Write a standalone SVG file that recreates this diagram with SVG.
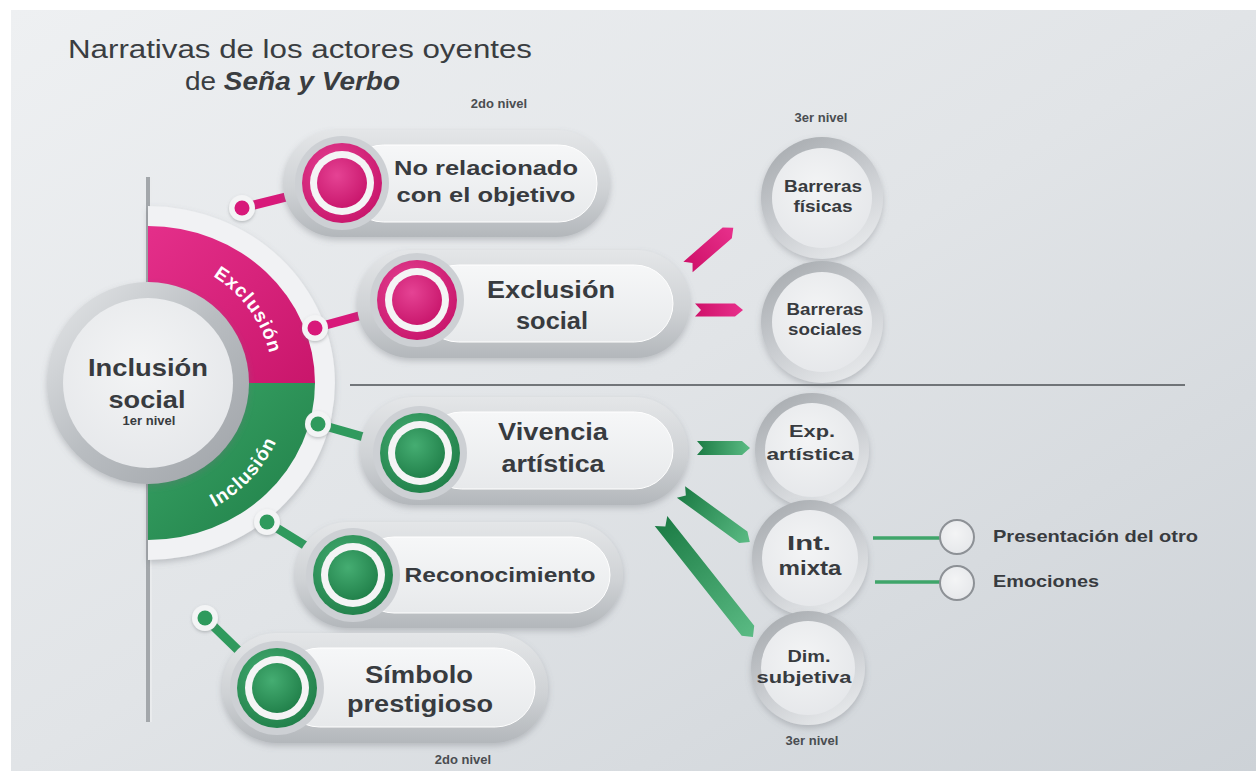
<svg xmlns="http://www.w3.org/2000/svg" width="1256" height="775" viewBox="0 0 1256 775">
<defs>
<linearGradient id="bg" x1="0" y1="0" x2="1" y2="1">
<stop offset="0" stop-color="#eef0f2"/><stop offset="0.5" stop-color="#e1e4e7"/><stop offset="1" stop-color="#cdd2d7"/>
</linearGradient>
<linearGradient id="shellG" x1="0" y1="0" x2="0" y2="1">
<stop offset="0" stop-color="#e4e6e8"/><stop offset="0.55" stop-color="#cfd2d5"/><stop offset="1" stop-color="#b3b7bb"/>
</linearGradient>
<linearGradient id="innerG" x1="0" y1="0" x2="0" y2="1">
<stop offset="0" stop-color="#f6f7f8"/><stop offset="1" stop-color="#e7e9eb"/>
</linearGradient>
<linearGradient id="ringG" x1="0" y1="0" x2="1" y2="1">
<stop offset="0" stop-color="#e6e8ea"/><stop offset="0.5" stop-color="#b9bdc1"/><stop offset="1" stop-color="#9ea2a7"/>
</linearGradient>
<linearGradient id="ringG2" x1="0.2" y1="0" x2="0.8" y2="1">
<stop offset="0" stop-color="#a8acb0"/><stop offset="0.5" stop-color="#c9ccd0"/><stop offset="1" stop-color="#e9ebed"/>
</linearGradient>
<radialGradient id="discG" cx="0.45" cy="0.4" r="0.7">
<stop offset="0" stop-color="#f3f4f5"/><stop offset="1" stop-color="#e4e6e9"/>
</radialGradient>
<linearGradient id="pinkW" x1="0" y1="0" x2="1" y2="1">
<stop offset="0" stop-color="#e42f8a"/><stop offset="1" stop-color="#c9166b"/>
</linearGradient>
<linearGradient id="greenW" x1="0" y1="0" x2="1" y2="1">
<stop offset="0" stop-color="#3aa567"/><stop offset="1" stop-color="#1f7e47"/>
</linearGradient>
<radialGradient id="pinkD" cx="0.4" cy="0.35" r="0.7">
<stop offset="0" stop-color="#e54394"/><stop offset="1" stop-color="#c8156b"/>
</radialGradient>
<radialGradient id="greenD" cx="0.4" cy="0.35" r="0.7">
<stop offset="0" stop-color="#45ad72"/><stop offset="1" stop-color="#207f49"/>
</radialGradient>
<linearGradient id="pinkR" x1="0" y1="0" x2="1" y2="0">
<stop offset="0" stop-color="#cf1169"/><stop offset="1" stop-color="#e8308c"/>
</linearGradient>
<linearGradient id="greenR" x1="0" y1="0" x2="1" y2="0">
<stop offset="0" stop-color="#1c7c45"/><stop offset="1" stop-color="#5bbb84"/>
</linearGradient>
<filter id="sh" x="-20%" y="-20%" width="140%" height="150%">
<feDropShadow dx="0" dy="3" stdDeviation="3" flood-color="#6d7378" flood-opacity="0.35"/>
</filter>
<filter id="shs" x="-40%" y="-40%" width="180%" height="180%">
<feDropShadow dx="0" dy="1.5" stdDeviation="1.5" flood-color="#6d7378" flood-opacity="0.4"/>
</filter>
<path id="arcEx" d="M169.7,259.9 A125,125 0 0 1 271.8,400.4"/>
<path id="arcIn" d="M152.9,523.9 A141,141 0 0 0 288.9,378.1"/>
</defs>
<style>
text{font-family:"Liberation Sans",Arial,sans-serif;}
.t{font-weight:bold;fill:#383b3f;text-anchor:middle;}
.lv{font-weight:bold;fill:#4a4d51;font-size:13px;text-anchor:middle;}
.shell{fill:url(#shellG);filter:url(#sh);}
.inner{fill:url(#innerG);stroke:#ffffff;stroke-width:1;}
.halo{fill:#cdd0d4;}
.pk{fill:url(#pinkD);}
.gr{fill:url(#greenD);}
.wr{fill:#f4f4f5;}
.ring{fill:url(#ringG2);filter:url(#sh);}
.disc{fill:url(#discG);}
.dotw{fill:#f3f4f5;filter:url(#shs);}
.pkl{stroke:#d8197a;stroke-width:9;stroke-linecap:round;fill:none;}
.grl{stroke:#2f9a5d;stroke-width:9;stroke-linecap:round;fill:none;}
.gline{stroke:#3fa56a;stroke-width:3.5;}
.arc{font-weight:bold;fill:#ffffff;font-size:19px;letter-spacing:1px;}
</style>
<rect x="0" y="0" width="1256" height="775" fill="#ffffff"/>
<rect x="11" y="10" width="1245" height="761" fill="url(#bg)"/>

<!-- titles -->
<g id="title">
<text x="68" y="58" font-size="25" fill="#3a3d41" textLength="464" lengthAdjust="spacingAndGlyphs">Narrativas de los actores oyentes</text>
<text x="185" y="90" font-size="25" fill="#3a3d41" textLength="215" lengthAdjust="spacingAndGlyphs">de <tspan font-weight="bold" font-style="italic">Seña y Verbo</tspan></text>
</g>
<text class="lv" x="499" y="108">2do nivel</text>
<text class="lv" x="463" y="764">2do nivel</text>
<text class="lv" x="821" y="122">3er nivel</text>
<text class="lv" x="812" y="745">3er nivel</text>

<!-- divider -->
<line x1="350" y1="385" x2="1185" y2="385" stroke="#4d5054" stroke-width="1.5"/>

<!-- vertical axis -->
<rect x="146" y="177" width="4" height="545" fill="#a3a7ab"/>
<rect x="150" y="177" width="2" height="545" fill="#e9ebed"/>

<!-- level 1 hub -->
<g id="n-inclusion-social">
<path d="M148,206 A187,177 0 0 1 148,560 Z" fill="#f1f2f4" filter="url(#sh)"/>
<path d="M148,383 L148,226 A167,157 0 0 1 315,383 Z" fill="url(#pinkW)"/>
<path d="M148,383 L315,383 A167,157 0 0 1 148,540 Z" fill="url(#greenW)"/>
<text class="arc"><textPath href="#arcEx" startOffset="50%" text-anchor="middle">Exclusión</textPath></text>
<text class="arc"><textPath href="#arcIn" startOffset="50%" text-anchor="middle">Inclusión</textPath></text>
<circle cx="148" cy="383" r="101" fill="url(#ringG)" filter="url(#sh)"/>
<circle cx="148" cy="383" r="85" class="disc"/>
<text class="t" x="148" y="376" font-size="24" textLength="120" lengthAdjust="spacingAndGlyphs">Inclusión</text>
<text class="t" x="147" y="408" font-size="24" textLength="77" lengthAdjust="spacingAndGlyphs">social</text>
<text class="t" x="149" y="425" font-size="13">1er nivel</text>
</g>

<!-- connectors -->
<g id="connectors">
<line class="pkl" x1="242" y1="208" x2="342" y2="183"/>
<line class="pkl" x1="315" y1="328" x2="417" y2="300"/>
<line class="grl" x1="318" y1="424" x2="420" y2="453"/>
<line class="grl" x1="267" y1="522" x2="353" y2="575"/>
<line class="grl" x1="205" y1="618" x2="277" y2="688"/>
<g>
<circle cx="242" cy="208" r="13" class="dotw"/><circle cx="242" cy="208" r="7.5" fill="#d8197a"/>
<circle cx="315" cy="328" r="13" class="dotw"/><circle cx="315" cy="328" r="7.5" fill="#d8197a"/>
<circle cx="318" cy="424" r="13" class="dotw"/><circle cx="318" cy="424" r="7.5" fill="#2f9a5d"/>
<circle cx="267" cy="522" r="13" class="dotw"/><circle cx="267" cy="522" r="7.5" fill="#2f9a5d"/>
<circle cx="205" cy="618" r="13" class="dotw"/><circle cx="205" cy="618" r="7.5" fill="#2f9a5d"/>
</g>
<path transform="translate(688,267) rotate(-41)" d="M0,-7 H52 L60,0 L52,7 H0 L6,0 Z" fill="url(#pinkR)"/>
<path transform="translate(695,310)" d="M0,-6.5 H40 L48,0 L40,6.5 H0 L6,0 Z" fill="url(#pinkR)"/>
<path transform="translate(697,448)" d="M0,-7 H45 L53,0 L45,7 H0 L6,0 Z" fill="url(#greenR)"/>
<path transform="translate(681,492) rotate(36)" d="M0,-7 H77 L85,0 L77,7 H0 L6,0 Z" fill="url(#greenR)"/>
<path transform="translate(661,521) rotate(51.6)" d="M0,-8 H140 L148,0 L140,8 H0 L7,0 Z" fill="url(#greenR)"/>
<line class="gline" x1="873" y1="538" x2="940" y2="538"/>
<line class="gline" x1="875" y1="582" x2="940" y2="582"/>
</g>

<!-- level 2 nodes -->
<g id="n-no-relacionado">
<rect class="shell" x="283" y="130" width="327" height="107" rx="53.5"/>
<rect class="inner" x="345" y="145" width="252" height="77" rx="38.5"/>
<circle cx="342" cy="183" r="47" class="halo"/>
<circle cx="342" cy="183" r="40" class="pk"/>
<circle cx="342" cy="183" r="32" class="wr"/>
<circle cx="342" cy="183" r="25" class="pk"/>
<text class="t" x="486" y="175" font-size="21" textLength="184" lengthAdjust="spacingAndGlyphs">No relacionado</text>
<text class="t" x="486" y="202" font-size="21" textLength="179" lengthAdjust="spacingAndGlyphs">con el objetivo</text>
</g>
<g id="n-exclusion-social">
<rect class="shell" x="357" y="250" width="333" height="108" rx="54"/>
<rect class="inner" x="420" y="265" width="253" height="77" rx="38.5"/>
<circle cx="417" cy="300" r="47" class="halo"/>
<circle cx="417" cy="300" r="40" class="pk"/>
<circle cx="417" cy="300" r="32" class="wr"/>
<circle cx="417" cy="300" r="25" class="pk"/>
<text class="t" x="551" y="298" font-size="23" textLength="128" lengthAdjust="spacingAndGlyphs">Exclusión</text>
<text class="t" x="552" y="329" font-size="23" textLength="72" lengthAdjust="spacingAndGlyphs">social</text>
</g>
<g id="n-vivencia">
<rect class="shell" x="360" y="397" width="328" height="108" rx="54"/>
<rect class="inner" x="423" y="412" width="250" height="77" rx="38.5"/>
<circle cx="420" cy="453" r="47" class="halo"/>
<circle cx="420" cy="453" r="40" class="gr"/>
<circle cx="420" cy="453" r="32" class="wr"/>
<circle cx="420" cy="453" r="25" class="gr"/>
<text class="t" x="553" y="440" font-size="23" textLength="110" lengthAdjust="spacingAndGlyphs">Vivencia</text>
<text class="t" x="553" y="472" font-size="23" textLength="103" lengthAdjust="spacingAndGlyphs">artística</text>
</g>
<g id="n-reconocimiento">
<rect class="shell" x="295" y="522" width="328" height="106" rx="53"/>
<rect class="inner" x="356" y="537" width="254" height="76" rx="38"/>
<circle cx="353" cy="575" r="47" class="halo"/>
<circle cx="353" cy="575" r="40" class="gr"/>
<circle cx="353" cy="575" r="32" class="wr"/>
<circle cx="353" cy="575" r="25" class="gr"/>
<text class="t" x="500" y="582" font-size="21" textLength="191" lengthAdjust="spacingAndGlyphs">Reconocimiento</text>
</g>
<g id="n-simbolo">
<rect class="shell" x="222" y="633" width="326" height="110" rx="55"/>
<rect class="inner" x="280" y="648" width="255" height="79" rx="39.5"/>
<circle cx="277" cy="688" r="47" class="halo"/>
<circle cx="277" cy="688" r="40" class="gr"/>
<circle cx="277" cy="688" r="32" class="wr"/>
<circle cx="277" cy="688" r="25" class="gr"/>
<text class="t" x="419" y="683" font-size="23" textLength="108" lengthAdjust="spacingAndGlyphs">Símbolo</text>
<text class="t" x="420" y="712" font-size="23" textLength="146" lengthAdjust="spacingAndGlyphs">prestigioso</text>
</g>

<!-- level 3 nodes -->
<g id="n-barreras-fisicas">
<circle cx="822" cy="198" r="61" class="ring"/><circle cx="822" cy="198" r="50" class="disc"/>
<text class="t" x="823" y="192" font-size="16" textLength="78" lengthAdjust="spacingAndGlyphs">Barreras</text>
<text class="t" x="823" y="212" font-size="16" textLength="59" lengthAdjust="spacingAndGlyphs">físicas</text>
</g>
<g id="n-barreras-sociales">
<circle cx="822" cy="322" r="61" class="ring"/><circle cx="822" cy="322" r="50" class="disc"/>
<text class="t" x="825" y="315" font-size="16" textLength="77" lengthAdjust="spacingAndGlyphs">Barreras</text>
<text class="t" x="825" y="335" font-size="16" textLength="74" lengthAdjust="spacingAndGlyphs">sociales</text>
</g>
<g id="n-exp-artistica">
<circle cx="812" cy="450" r="57" class="ring"/><circle cx="812" cy="450" r="47" class="disc"/>
<text class="t" x="812" y="437" font-size="17" textLength="46" lengthAdjust="spacingAndGlyphs">Exp.</text>
<text class="t" x="810" y="460" font-size="17" textLength="87" lengthAdjust="spacingAndGlyphs">artística</text>
</g>
<g id="n-int-mixta">
<circle cx="810" cy="558" r="58" class="ring"/><circle cx="810" cy="558" r="48" class="disc"/>
<text class="t" x="809" y="550" font-size="21" textLength="44" lengthAdjust="spacingAndGlyphs">Int.</text>
<text class="t" x="810" y="575" font-size="21" textLength="63" lengthAdjust="spacingAndGlyphs">mixta</text>
</g>
<g id="n-dim-subjetiva">
<circle cx="808" cy="668" r="57" class="ring"/><circle cx="808" cy="668" r="47" class="disc"/>
<text class="t" x="809" y="662" font-size="16" textLength="43" lengthAdjust="spacingAndGlyphs">Dim.</text>
<text class="t" x="804" y="683" font-size="16" textLength="95" lengthAdjust="spacingAndGlyphs">subjetiva</text>
</g>
<g id="n-presentacion">
<circle cx="957" cy="537" r="17" fill="url(#discG)" stroke="#8d9196" stroke-width="2"/>
<text x="993" y="542" font-size="17" font-weight="bold" fill="#383b3f" textLength="205" lengthAdjust="spacingAndGlyphs">Presentación del otro</text>
</g>
<g id="n-emociones">
<circle cx="957" cy="583" r="17" fill="url(#discG)" stroke="#8d9196" stroke-width="2"/>
<text x="993" y="587" font-size="17" font-weight="bold" fill="#383b3f" textLength="106" lengthAdjust="spacingAndGlyphs">Emociones</text>
</g>
</svg>
